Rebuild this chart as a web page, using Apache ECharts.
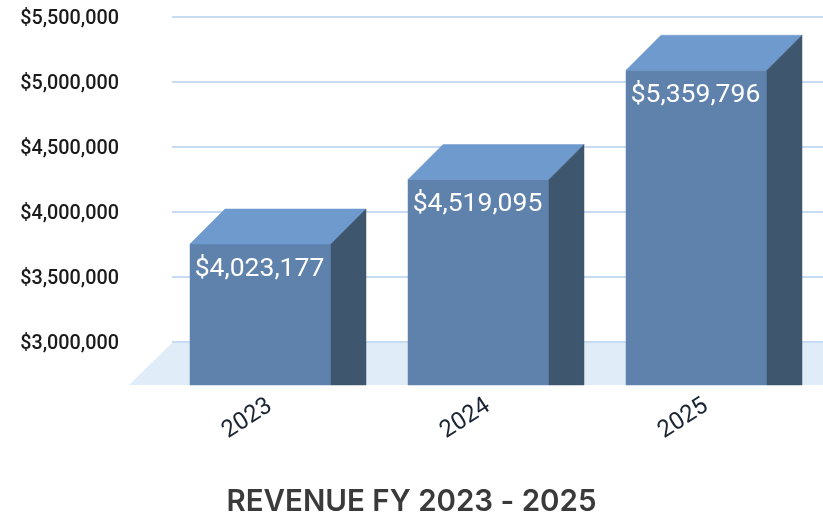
<!DOCTYPE html>
<html>
<head>
<meta charset="utf-8">
<style>html,body{margin:0;padding:0;background:#fff}#c{width:823px;height:512px}</style>
<script src="https://cdn.jsdelivr.net/npm/echarts@6/dist/echarts.min.js"></script>
</head>
<body>
<div id="c"></div>
<script>
var years = ['2023', '2024', '2025'];
var revenue = [4023177, 4519095, 5359796];
var axisMin = 3000000;
var axisMax = 5500000;
var axisStep = 500000;
var chartTitle = 'REVENUE FY 2023 - 2025';

function money(v) { return '$' + Number(v).toLocaleString('en-US'); }

var chart = echarts.init(document.getElementById('c'), null, { renderer: 'canvas' });
var FRONT_W = 141, DEPTH_X = 35, DEPTH_Y = 35, GROUND = 43;

chart.setOption({
  animation: false,
  backgroundColor: '#ffffff',
  title: {
    text: chartTitle, left: 'center', top: 482,
    textStyle: { fontFamily: 'Inter', fontSize: 29.5, fontWeight: 600, color: '#3a3a3a' }
  },
  grid: { left: 172, width: 654, top: 17, height: 325, outerBoundsMode: 'none' },
  xAxis: {
    type: 'category', data: years,
    axisLine: { show: false }, axisTick: { show: false },
    axisLabel: {
      rotate: 33, margin: 55, align: 'right', padding: [0, 13, 0, 0],
      fontFamily: 'Roboto', fontSize: 24, color: '#1a2433'
    }
  },
  yAxis: {
    type: 'value', min: axisMin, max: axisMax, interval: axisStep,
    axisLine: { show: false }, axisTick: { show: false },
    axisLabel: {
      margin: 53, fontFamily: 'Roboto', fontSize: 19.8, fontWeight: 500, color: '#1a1a1a',
      verticalAlign: 'top', lineHeight: 4,
      formatter: money
    },
    splitLine: { lineStyle: { color: '#b5d0f0', width: 1.5 } }
  },
  series: [
    {
      type: 'custom', z: 1, silent: true, clip: false,
      data: [[0, axisMin]],
      renderItem: function (params, api) {
        var p = api.coord([0, axisMin]);
        var cs = params.coordSys;
        var top = p[1] + 1, bottom = p[1] + GROUND;
        return {
          type: 'polygon',
          shape: { points: [[cs.x, top], [cs.x - GROUND, bottom], [823, bottom], [823, top]] },
          style: { fill: '#e1ecf9' }
        };
      }
    },
    {
      type: 'custom', z: 2, silent: true, clip: false,
      data: revenue.map(function (v, i) { return [i, v]; }),
      encode: { x: 0, y: 1 },
      renderItem: function (params, api) {
        var i = api.value(0), v = api.value(1);
        var c = api.coord([i, v]);
        var base = api.coord([i, axisMin])[1] + GROUND;
        var backTop = c[1];
        var frontTop = backTop + DEPTH_Y;
        var x0 = c[0] - (FRONT_W + DEPTH_X) / 2 - 3;
        var x1 = x0 + FRONT_W;
        var x2 = x1 + DEPTH_X;
        return {
          type: 'group',
          children: [
            { type: 'polygon', shape: { points: [[x0, frontTop], [x1, frontTop], [x1, base], [x0, base]] }, style: { fill: '#5f82ad', stroke: '#5f82ad', lineWidth: 0.5 } },
            { type: 'polygon', shape: { points: [[x0, frontTop], [x0 + DEPTH_X, backTop], [x2, backTop], [x1, frontTop]] }, style: { fill: '#6f9ace', stroke: '#6f9ace', lineWidth: 0.5 } },
            { type: 'polygon', shape: { points: [[x1, frontTop], [x2, backTop], [x2, base], [x1, base]] }, style: { fill: '#3f566f', stroke: '#3f566f', lineWidth: 0.5 } },
            { type: 'text', style: { text: money(v), x: x0 + FRONT_W / 2 - 1, y: frontTop + 25, align: 'center', verticalAlign: 'middle', fontFamily: 'Roboto', fontSize: 26.5, fill: '#ffffff' } }
          ]
        };
      }
    }
  ]
});
</script>
</body>
</html>
